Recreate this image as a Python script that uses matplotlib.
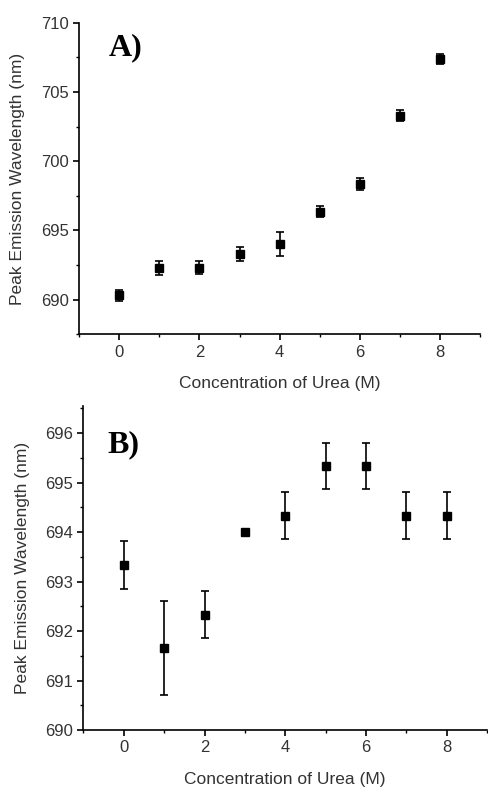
import matplotlib
matplotlib.use('Agg')
import matplotlib.pyplot as plt
from matplotlib.ticker import MultipleLocator

plt.rcParams['font.family'] = ['Liberation Sans', 'DejaVu Sans']

# urea concentration (M)
urea = [0, 1, 2, 3, 4, 5, 6, 7, 8]

# panel A
peak_a = [690.3, 692.3, 692.3, 693.3, 694.0, 696.35, 698.35, 703.3, 707.4]
err_a = [0.4, 0.5, 0.45, 0.5, 0.85, 0.4, 0.4, 0.4, 0.35]

# panel B
peak_b = [693.33, 691.66, 692.33, 694.0, 694.33, 695.33, 695.33, 694.33, 694.33]
err_b = [0.48, 0.95, 0.48, 0.0, 0.48, 0.46, 0.46, 0.48, 0.48]

fig = plt.figure(figsize=(4.88, 7.88), dpi=100)
axA = fig.add_axes([0.162, 0.576, 0.822, 0.395])
axB = fig.add_axes([0.171, 0.0736, 0.827, 0.4114])

def style(ax):
    ax.spines['top'].set_visible(False)
    ax.spines['right'].set_visible(False)
    ax.spines['left'].set_linewidth(1.2)
    ax.spines['bottom'].set_linewidth(1.2)
    ax.tick_params(which='major', direction='out', length=4, width=1.2,
                   labelsize=12, labelcolor='#333333')
    ax.tick_params(which='minor', direction='out', length=2, width=1.0)
    ax.set_xlim(-1, 9)
    ax.xaxis.set_major_locator(MultipleLocator(2))
    ax.xaxis.set_minor_locator(MultipleLocator(1))
    ax.set_xlabel('Concentration of Urea (M)', fontsize=12.5, color='#333333', labelpad=12)
    ax.set_ylabel('Peak Emission Wavelength (nm)', fontsize=12.5, color='#333333', labelpad=11)

axA.errorbar(urea, peak_a, yerr=err_a, fmt='s', color='black', ms=5.5,
             capsize=3, elinewidth=1.2, capthick=1.2)
style(axA)
axA.set_ylim(687.5, 710)
axA.yaxis.set_major_locator(MultipleLocator(5))
axA.yaxis.set_minor_locator(MultipleLocator(2.5))
axA.text(0.075, 0.92, 'A)', transform=axA.transAxes, fontsize=23,
         fontweight='bold', family='Liberation Serif', va='center')

axB.errorbar(urea, peak_b, yerr=err_b, fmt='s', color='black', ms=5.5,
             capsize=3, elinewidth=1.2, capthick=1.2)
style(axB)
axB.set_ylim(690, 696.55)
axB.yaxis.set_major_locator(MultipleLocator(1))
axB.yaxis.set_minor_locator(MultipleLocator(0.5))
axB.text(0.06, 0.88, 'B)', transform=axB.transAxes, fontsize=23,
         fontweight='bold', family='Liberation Serif', va='center')

fig.savefig('out.png', dpi=100)
